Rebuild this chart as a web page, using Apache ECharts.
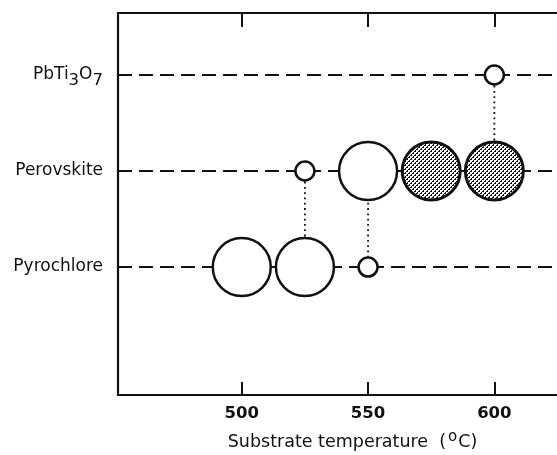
<!DOCTYPE html>
<html>
<head>
<meta charset="utf-8">
<script src="https://cdn.jsdelivr.net/npm/echarts@6/dist/echarts.min.js"></script>
<style>
html,body{margin:0;padding:0;background:#fff;}
#chart{width:557px;height:455px;}
</style>
</head>
<body>
<div id="chart"></div>
<script>
// ---- data ----
const categories = ['Pyrochlore', 'Perovskite', 'PbTi3O7'];
const xTicks = [500, 550, 600];
const xMin = 451;
const xMax = 624.8;
const pointTemps  = [500, 525, 550, 525, 550, 575, 600, 600];
const pointPhase  = ['Pyrochlore', 'Pyrochlore', 'Pyrochlore', 'Perovskite', 'Perovskite', 'Perovskite', 'Perovskite', 'PbTi3O7'];
const pointSize   = ['large', 'large', 'small', 'small', 'large', 'large', 'large', 'small'];
const pointShaded = [false, false, false, false, false, true, true, false];
const connectorTemps = [525, 550, 600];
const connectorFrom  = ['Perovskite', 'Perovskite', 'PbTi3O7'];
const connectorTo    = ['Pyrochlore', 'Pyrochlore', 'Perovskite'];

const phaseVal = name => categories.indexOf(name) + 1;

// dotted texture for shaded circles
const pat = document.createElement('canvas');
pat.width = 4; pat.height = 4;
const pc = pat.getContext('2d');
pc.fillStyle = '#ffffff'; pc.fillRect(0, 0, 4, 4);
pc.fillStyle = '#111111';
pc.fillRect(0, 0, 2, 2);
pc.fillRect(2, 2, 2, 2);
pc.fillStyle = '#ffffff';
pc.fillRect(0, 0, 1, 1);
pc.fillRect(2, 2, 1, 1);

const chart = echarts.init(document.getElementById('chart'), null, {renderer: 'canvas'});

const series = [];
// dashed phase lines
categories.forEach(c => {
  series.push({
    type: 'line', xAxisIndex: 0, yAxisIndex: 0, silent: true, symbol: 'none', z: 1,
    data: [[xMin, phaseVal(c)], [xMax, phaseVal(c)]],
    lineStyle: {color: '#111', width: 1.9, type: [14, 7]}
  });
});
// dotted connectors
connectorTemps.forEach((t, i) => {
  series.push({
    type: 'line', xAxisIndex: 0, yAxisIndex: 0, silent: true, symbol: 'none', z: 2,
    data: [[t, phaseVal(connectorFrom[i])], [t, phaseVal(connectorTo[i])]],
    lineStyle: {color: '#111', width: 1.8, type: [1.8, 3.5]}
  });
});
// circles (custom so the texture is not scaled)
series.push({
  type: 'custom', xAxisIndex: 0, yAxisIndex: 0, z: 5, silent: true,
  data: pointTemps.map((t, i) => [t, phaseVal(pointPhase[i]), i]),
  renderItem: (params, api) => {
    const i = api.value(2);
    const p = api.coord([api.value(0), api.value(1)]);
    const r = pointSize[i] === 'large' ? 29 : 9.5;
    return {
      type: 'circle',
      shape: {cx: p[0], cy: p[1], r: r},
      style: {
        fill: pointShaded[i] ? {image: pat, repeat: 'repeat'} : '#ffffff',
        stroke: '#111',
        lineWidth: pointShaded[i] ? 3 : 2.5
      }
    };
  }
});

const labelRich = {
  n: {fontFamily: 'DejaVu Sans', fontSize: 17, color: '#111'},
  s: {fontFamily: 'DejaVu Sans', fontSize: 16.5, color: '#111', padding: [12, 0, 0, 0]}
};

chart.setOption({
  animation: false,
  backgroundColor: '#fff',
  grid: {left: 118, right: 0, top: 13, bottom: 60, containLabel: false, outerBoundsMode: 'none'},
  xAxis: [{
    type: 'value', position: 'bottom', min: xMin, max: xMax,
    axisLine: {show: true, onZero: false, lineStyle: {color: '#111', width: 2.2}},
    axisTick: {show: true, inside: true, length: 13, customValues: xTicks, lineStyle: {color: '#111', width: 2}},
    axisLabel: {show: true, customValues: xTicks, margin: 10, fontFamily: 'DejaVu Sans', fontWeight: 'bold', fontSize: 16.5, color: '#111'},
    splitLine: {show: false},
    name: '{a|Substrate temperature  (}{o|o}{a|C)}',
    nameLocation: 'middle', nameGap: 35,
    nameTextStyle: {
      padding: [0, 0, 0, 30],
      rich: {
        a: {fontFamily: 'DejaVu Sans', fontSize: 17.5, color: '#111'},
        o: {fontFamily: 'DejaVu Sans', fontSize: 15, color: '#111', padding: [0, 1, 10, 2]}
      }
    }
  }, {
    type: 'value', position: 'top', min: xMin, max: xMax,
    axisLine: {show: true, onZero: false, lineStyle: {color: '#111', width: 2.2}},
    axisTick: {show: true, inside: true, length: 14, customValues: xTicks, lineStyle: {color: '#111', width: 2}},
    axisLabel: {show: false},
    splitLine: {show: false}
  }],
  yAxis: [{
    type: 'value', min: -0.333, max: 3.646,
    axisLine: {show: true, onZero: false, lineStyle: {color: '#111', width: 2.2}},
    axisTick: {show: false},
    splitLine: {show: false},
    axisLabel: {
      show: true, customValues: [1, 2, 3], margin: 15,
      formatter: v => {
        const name = categories[Math.round(v) - 1];
        if (name === 'PbTi3O7') return '{n|PbTi}{s|3}{n|O}{s|7}';
        return '{n|' + name + '}';
      },
      rich: labelRich
    }
  }],
  series: series
});
</script>
</body>
</html>
